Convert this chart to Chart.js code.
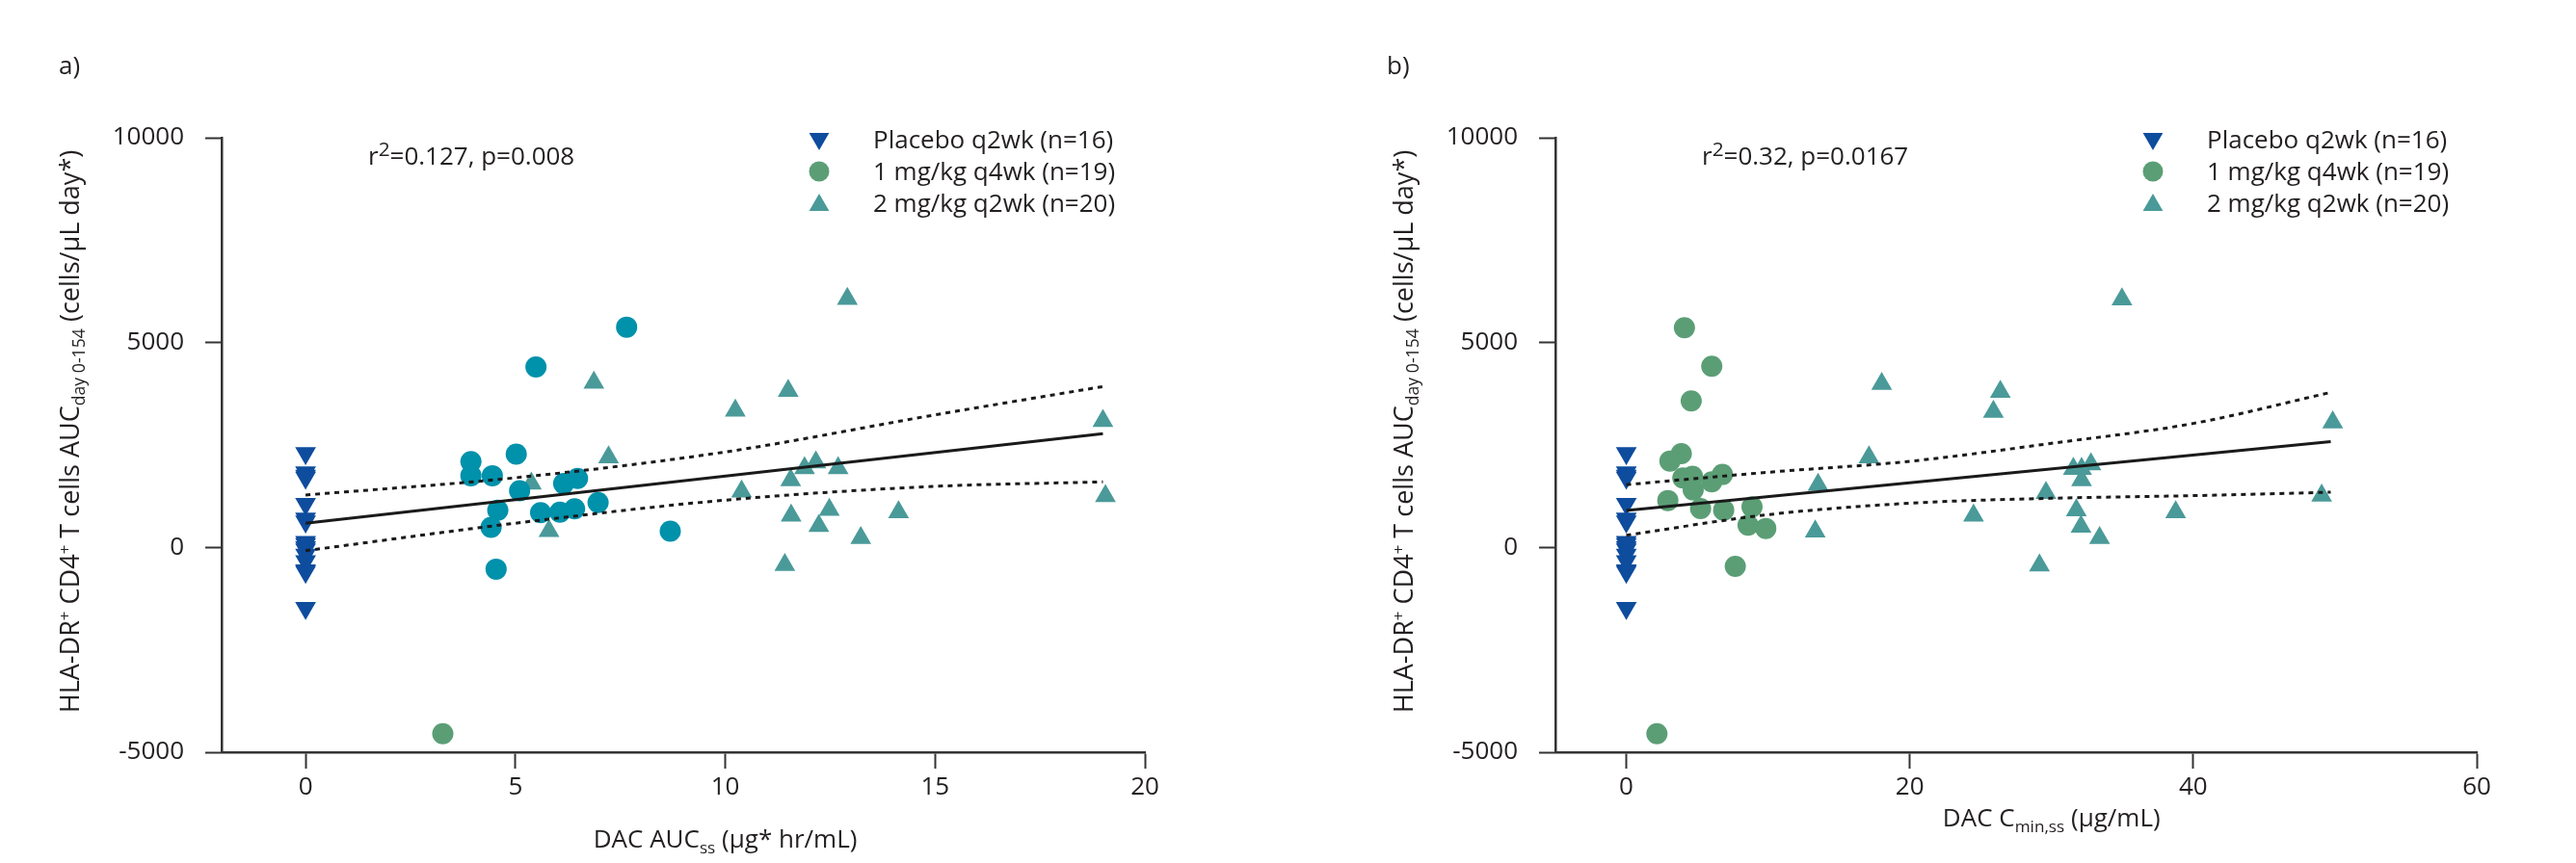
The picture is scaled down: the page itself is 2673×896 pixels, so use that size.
<!DOCTYPE html>
<html>
<head>
<meta charset="utf-8">
<script src="https://cdn.jsdelivr.net/npm/chart.js@4.4.1/dist/chart.umd.min.js"></script>
<style>
  html, body { margin: 0; padding: 0; background: #fff; }
  #wrap { position: relative; width: 2673px; height: 896px; }
  .panel { position: absolute; top: 0; height: 896px; }
</style>
</head>
<body>
<div id="wrap">
  <div class="panel" style="left:0;width:1336px"><canvas id="chartA" width="1336" height="896"></canvas></div>
  <div class="panel" style="left:1336px;width:1337px"><canvas id="chartB" width="1337" height="896"></canvas></div>
</div>
<script>
// ---- data ----
const legendLabels = ['Placebo q2wk (n=16)', '1 mg/kg q4wk (n=19)', '2 mg/kg q2wk (n=20)'];

// placebo: all at exposure 0 in both panels
const placeboY = [2300, 1830, 1750, 1700, 1060, 700, 630, 130, 80, 0, -50, -180, -340, -560, -600, -1480];

// panel a: DAC AUCss
const aLowX = [7.65, 5.49, 5.02, 3.94, 3.94, 4.45, 5.10, 6.15, 6.48, 4.58, 4.42, 5.60, 6.06, 6.41, 6.97, 8.69, 4.54, 3.27];
const aLowY = [5377, 4404, 2276, 2095, 1750, 1750, 1385, 1557, 1684, 905, 488, 850, 861, 943, 1096, 397, -530, -4547];
const aHighX = [12.91, 6.87, 11.50, 10.24, 19.00, 7.22, 12.16, 11.89, 12.69, 11.56, 5.38, 10.39, 19.06, 12.48, 14.13, 11.57, 12.23, 5.80, 13.23, 11.42];
const aHighY = [6066, 4025, 3824, 3339, 3085, 2203, 2078, 1935, 1935, 1641, 1557, 1364, 1256, 919, 861, 776, 524, 400, 230, -425];
const aFitX = [0, 19];
const aFitY = [591, 2775];
const aCiX = [0, 5, 10, 15, 19];
const aCiUpper = [1279, 1700, 2330, 3235, 3927];
const aCiLower = [-80, 591, 1154, 1490, 1599];
const aTicksX = [0, 5, 10, 15, 20];

// panel b: DAC Cmin,ss
const bLowX = [4.10, 6.03, 4.58, 3.88, 3.08, 3.99, 4.67, 6.78, 6.03, 4.72, 2.93, 5.24, 6.87, 8.87, 8.59, 9.84, 7.69, 2.16];
const bLowY = [5361, 4420, 3574, 2288, 2109, 1693, 1733, 1780, 1599, 1404, 1145, 948, 910, 988, 541, 463, -463, -4547];
const bHighX = [34.97, 18.02, 26.39, 25.90, 49.84, 17.12, 31.54, 32.12, 32.78, 32.12, 13.53, 29.61, 49.06, 31.75, 38.76, 24.50, 32.08, 13.33, 33.39, 29.15];
const bHighY = [6058, 3992, 3800, 3313, 3052, 2203, 1919, 1919, 2027, 1641, 1531, 1331, 1263, 910, 861, 776, 508, 390, 230, -441];
const bFitX = [0, 49.7];
const bFitY = [903, 2582];
const bCiX = [0, 10, 20, 30, 40, 49.7];
const bCiUpper = [1531, 1834, 2102, 2540, 3026, 3783];
const bCiLower = [297, 799, 1079, 1199, 1263, 1347];
const bTicksX = [0, 20, 40, 60];

const yTicks = [-5000, 0, 5000, 10000];

// ---- styles ----
const FONT = "'Open Sans', 'DejaVu Sans', sans-serif";
const FS = 26;
const TEXT = '#231f20';
const AXIS = '#333333';
const NAVY = '#0e4c9e';
const CYAN = '#0091ab';
const GREEN = '#5b9e75';
const TEAL = '#4a9a99';

Chart.defaults.font.family = FONT;
Chart.defaults.font.size = FS;
Chart.defaults.color = TEXT;

const pts = (xs, ys) => xs.map((x, i) => ({x, y: ys[i]}));

const Y_TITLE = [
  {t: 'HLA-DR', k: 1.04}, {t: '+', s: 'sup', k: 0.65}, {t: ' CD4', k: 1.04}, {t: '+', s: 'sup', k: 0.65},
  {t: ' T cells AUC', k: 1.04}, {t: 'day 0-154', s: 'sub', k: 0.68}, {t: ' (cells/\u00b5L day*)', k: 1.04}
];

function drawRich(ctx, runs, x, y, align) {
  const parts = runs.map(r => {
    const size = FS * (r.k || 1);
    ctx.font = `${size}px ${FONT}`;
    return Object.assign({}, r, {size, w: ctx.measureText(r.t).width});
  });
  const total = parts.reduce((a, p) => a + p.w, 0);
  let cx = align === 'center' ? x - total / 2 : x;
  ctx.textAlign = 'left';
  ctx.textBaseline = 'alphabetic';
  parts.forEach(p => {
    ctx.font = `${p.size}px ${FONT}`;
    const dy = p.s === 'sub' ? FS * 0.24 : p.s === 'sup' ? -FS * 0.36 : 0;
    ctx.fillText(p.t, cx, y + dy);
    cx += p.w;
  });
}

// texts, legend and axis titles drawn on top of each panel
const panelText = {
  id: 'panelText',
  afterDraw(chart, args, o) {
    const ctx = chart.ctx;
    const area = chart.chartArea;
    ctx.save();
    ctx.fillStyle = TEXT;
    ctx.font = `${FS}px ${FONT}`;
    ctx.textAlign = 'left';
    ctx.textBaseline = 'alphabetic';
    ctx.fillText(o.letter, o.letterX, 77);

    drawRich(ctx, o.stat, area.left + 152, 171, 'left');

    // legend
    const styles = [
      {pointStyle: 'triangle', rotation: 180, radius: 12, color: NAVY},
      {pointStyle: 'circle', rotation: 0, radius: 10.5, color: GREEN},
      {pointStyle: 'triangle', rotation: 0, radius: 12, color: TEAL}
    ];
    legendLabels.forEach((lbl, i) => {
      const cy = 145 + i * 33;
      const st = styles[i];
      ctx.fillStyle = st.color;
      Chart.helpers.drawPoint(ctx, {pointStyle: st.pointStyle, rotation: st.rotation, radius: st.radius, borderWidth: 0}, area.left + 620, cy + (st.pointStyle === 'triangle' ? (st.rotation ? -1 : 2) : 0));
      ctx.fillStyle = TEXT;
      ctx.font = `${FS}px ${FONT}`;
      ctx.textAlign = 'left';
      ctx.fillText(lbl, area.left + 676, cy + 9);
    });

    // x title
    ctx.fillStyle = TEXT;
    drawRich(ctx, o.xTitle, chart.scales.x.getPixelForValue(o.xTitleAt), o.xTitleY, 'center');

    // y title
    ctx.translate(area.left - 148, (area.top + area.bottom) / 2 - 14);
    ctx.rotate(-Math.PI / 2);
    drawRich(ctx, Y_TITLE, 0, 0, 'center');
    ctx.restore();
  }
};

function makeChart(id, cfg) {
  const W = document.getElementById(id).width;
  return new Chart(document.getElementById(id), {
    data: {
      datasets: [
        {type: 'line', data: pts(cfg.fitX, cfg.fitY), borderColor: '#1a1a1a', borderWidth: 3, pointRadius: 0, order: 0},
        {type: 'line', data: pts(cfg.ciX, cfg.ciUpper), borderColor: '#1a1a1a', borderWidth: 3, borderDash: [5, 5], pointRadius: 0, cubicInterpolationMode: 'monotone', order: 0},
        {type: 'line', data: pts(cfg.ciX, cfg.ciLower), borderColor: '#1a1a1a', borderWidth: 3, borderDash: [5, 5], pointRadius: 0, cubicInterpolationMode: 'monotone', order: 0},
        {type: 'scatter', data: placeboY.map(y => ({x: 0, y})), pointStyle: 'triangle', rotation: 180, pointRadius: 12.5, backgroundColor: NAVY, borderWidth: 0, order: 1},
        {type: 'scatter', data: pts(cfg.lowX, cfg.lowY), pointStyle: 'circle', pointRadius: 11, backgroundColor: cfg.lowColors, borderWidth: 0, order: 1},
        {type: 'scatter', data: pts(cfg.highX, cfg.highY), pointStyle: 'triangle', pointRadius: 12.5, backgroundColor: TEAL, borderWidth: 0, order: 1}
      ]
    },
    options: {
      responsive: false,
      animation: false,
      clip: false,
      layout: {padding: {left: 0, top: 143, right: W - cfg.right, bottom: 0}},
      plugins: {
        legend: {display: false},
        tooltip: {enabled: false},
        panelText: cfg.text
      },
      scales: {
        x: {
          type: 'linear', min: cfg.xMin, max: cfg.xMax,
          afterBuildTicks: s => { s.ticks = cfg.ticksX.map(v => ({value: v})); },
          afterFit: s => { s.height = 115; },
          border: {color: AXIS, width: 2.5},
          grid: {drawOnChartArea: false, drawTicks: true, tickLength: 17, tickColor: AXIS, tickWidth: 2},
          ticks: {padding: 4, color: TEXT, font: {size: FS}, callback: v => String(v)}
        },
        y: {
          type: 'linear', min: -5000, max: 10000,
          afterBuildTicks: s => { s.ticks = yTicks.map(v => ({value: v})); },
          afterFit: s => { s.width = cfg.left; },
          border: {color: AXIS, width: 2.5},
          grid: {drawOnChartArea: false, drawTicks: true, tickLength: 17, tickColor: AXIS, tickWidth: 2},
          ticks: {padding: 22, color: TEXT, font: {size: FS}, callback: v => String(v)}
        }
      }
    },
    plugins: [panelText]
  });
}

makeChart('chartA', {
  left: 230, right: 1188, xMin: -2, xMax: 20, ticksX: aTicksX,
  fitX: aFitX, fitY: aFitY, ciX: aCiX, ciUpper: aCiUpper, ciLower: aCiLower,
  lowX: aLowX, lowY: aLowY, lowColors: aLowY.map(y => y < -4000 ? GREEN : CYAN),
  highX: aHighX, highY: aHighY,
  text: {
    letter: 'a)', letterX: 61,
    stat: [{t: 'r'}, {t: '2', s: 'sup', k: 0.8}, {t: '=0.127, p=0.008'}],
    xTitle: [{t: 'DAC AUC'}, {t: 'ss', s: 'sub', k: 0.66}, {t: ' (\u00b5g* hr/mL)'}],
    xTitleAt: 10, xTitleY: 880
  }
});

makeChart('chartB', {
  left: 278, right: 1234, xMin: -5, xMax: 60, ticksX: bTicksX,
  fitX: bFitX, fitY: bFitY, ciX: bCiX, ciUpper: bCiUpper, ciLower: bCiLower,
  lowX: bLowX, lowY: bLowY, lowColors: GREEN,
  highX: bHighX, highY: bHighY,
  text: {
    letter: 'b)', letterX: 103,
    stat: [{t: 'r'}, {t: '2', s: 'sup', k: 0.8}, {t: '=0.32, p=0.0167'}],
    xTitle: [{t: 'DAC C'}, {t: 'min,ss', s: 'sub', k: 0.66}, {t: ' (\u00b5g/mL)'}],
    xTitleAt: 30, xTitleY: 858
  }
});
</script>
</body>
</html>
